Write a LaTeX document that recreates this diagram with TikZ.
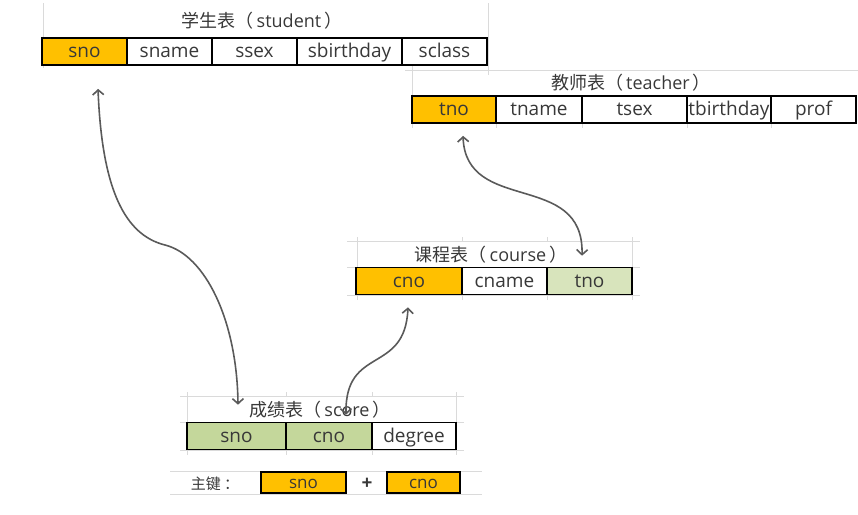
\documentclass[tikz,border=0pt]{standalone}
\usepackage{fontspec}
\setmainfont{Open Sans}
\newfontfamily\cjk{Noto Sans CJK SC}
\usetikzlibrary{arrows.meta}

\definecolor{keyorange}{HTML}{FFC000}
\definecolor{fkgreen}{HTML}{C4D79B}
\definecolor{fklight}{HTML}{D8E4BC}
\definecolor{linkgray}{HTML}{5A5A5A}
\definecolor{txtgray}{HTML}{383838}
\definecolor{sheetgray}{HTML}{DADADA}

\tikzset{
  cell/.style={draw=black,line width=1.6pt,minimum height=27pt,inner sep=0pt,
    text height=15pt,text depth=3pt,
    fill=white,text=txtgray,font=\fontsize{19}{22}\selectfont},
  keycell/.style={draw=black,line width=1.3pt,minimum height=21pt,inner sep=0pt,
    text height=13pt,text depth=2pt,
    fill=keyorange,text=txtgray,font=\fontsize{17}{20}\selectfont},
  tabtitle/.style={text=txtgray,inner sep=0pt,font=\fontsize{18}{21}\selectfont},
  sheetline/.style={draw=sheetgray,line width=0.7pt},
  link/.style={draw=linkgray,line width=1.6pt,>={Straight Barb[length=5pt,width=11pt]},<->}
}

\begin{document}
\begin{tikzpicture}[x=1pt,y=-1pt]
  \useasboundingbox (0,0) rectangle (858,514);

  % faint sheet grid
  \draw[sheetline] (43,3) -- (43,68) (488,3) -- (488,75);
  \draw[sheetline] (405,70) -- (858,70) (412,66) -- (412,128);
  \foreach \x in {496,582,687,771} \draw[sheetline] (\x,123) -- (\x,128);
  \draw[sheetline] (347,241) -- (640,241) (357,237) -- (357,300) (632,237) -- (632,300);
  \draw[sheetline] (347,267) -- (640,267) (347,295) -- (640,295);
  \foreach \x in {462,547} \draw[sheetline] (\x,237) -- (\x,241) (\x,295) -- (\x,300);
  \draw[sheetline] (180,396) -- (464,396) (187,392) -- (187,455) (456,392) -- (456,455);
  \draw[sheetline] (180,422) -- (464,422) (180,450) -- (464,450);
  \foreach \x in {286,372} \draw[sheetline] (\x,392) -- (\x,396) (\x,450) -- (\x,455);
  \draw[sheetline] (170,471) -- (482,471) (170,494) -- (482,494);

  % student
  \node[tabtitle] (st-title) at (262,21) {{\cjk 学生表（}\,student\,{\cjk ）}};
  \foreach \n/\xa/\xb/\col in {sno/42/127/keyorange,sname/127/212/white,ssex/212/297/white,
      sbirthday/297/402/white,sclass/402/487/white}
    \node[cell,fill=\col,minimum width=\xb-\xa] (st-\n) at ({(\xa+\xb)/2},51.5) {\n};

  % teacher
  \node[tabtitle] (te-title) at (631,83) {{\cjk 教师表（}\,teacher\,{\cjk ）}};
  \foreach \n/\xa/\xb/\col in {tno/412/496/keyorange,tname/496/582/white,tsex/582/687/white,
      tbirthday/687/771/white,prof/771/856/white}
    \node[cell,fill=\col,minimum width=\xb-\xa] (te-\n) at ({(\xa+\xb)/2},109.5) {\n};

  % course
  \node[tabtitle] (co-title) at (491,255) {{\cjk 课程表（}\,course\,{\cjk ）}};
  \foreach \n/\xa/\xb/\col in {cno/356/462/keyorange,cname/462/547/white,tno/547/632/fklight}
    \node[cell,fill=\col,minimum width=\xb-\xa] (co-\n) at ({(\xa+\xb)/2},281) {\n};

  % score
  \node[tabtitle] (sc-title) at (320,410) {{\cjk 成绩表（}\,score\,{\cjk ）}};
  \foreach \n/\xa/\xb/\col in {sno/187/286/fkgreen,cno/286/372/fkgreen,degree/372/456/white}
    \node[cell,fill=\col,minimum width=\xb-\xa] (sc-\n) at ({(\xa+\xb)/2},436) {\n};

  % primary key of score
  \node[tabtitle,font=\cjk\fontsize{15}{18}\selectfont] (pk-label) at (215,484) {主键\ ：};
  \node[keycell,minimum width=85pt] (pk-sno) at (303.5,482.5) {sno};
  \node[tabtitle,font=\bfseries\fontsize{19}{22}\selectfont] (pk-plus) at (367,484) {+};
  \node[keycell,minimum width=73pt] (pk-cno) at (423.5,482.5) {cno};

  % foreign key links
  \draw[link] ([xshift=13.5pt,yshift=-23pt]st-sno.south)
    .. controls (102,190) and (125,235) .. (165,245)
    .. controls (205,255) and (237,320) .. ([xshift=1.5pt,yshift=17pt]sc-sno.north);
  \draw[link] ([xshift=9pt,yshift=-12pt]te-tno.south)
    .. controls (466,215) and (584,170) .. ([xshift=-7.5pt,yshift=11pt]co-tno.north);
  \draw[link] ([xshift=-1pt,yshift=-12pt]co-cno.south)
    .. controls (405,375) and (345,345) .. ([xshift=17pt,yshift=7pt]sc-cno.north);

\end{tikzpicture}
\end{document}
